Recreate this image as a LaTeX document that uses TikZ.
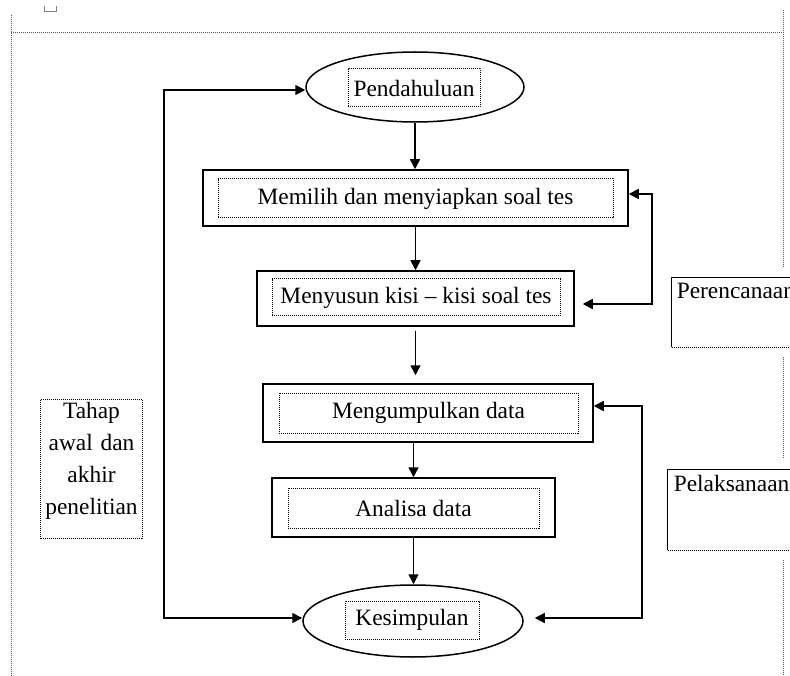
\documentclass[tikz,border=0pt]{standalone}
\usepackage{fontspec}
\setmainfont{Liberation Serif}
\usetikzlibrary{arrows.meta, shapes.geometric}

\begin{document}
\begin{tikzpicture}[
    x=1pt, y=-1pt, line width=1.5pt, >={Triangle[length=10pt, width=10pt]},
    font=\fontsize{23.4}{32}\selectfont,
    procbox/.style={draw, rectangle, inner sep=0pt},
    txtbox/.style={draw, rectangle, dash pattern=on 1.2pt off 0.8pt, line width=1pt, inner sep=0pt},
    oval/.style={draw, ellipse, inner sep=0pt},
    sidebox/.style={draw, dash pattern=on 1.2pt off 0.8pt, line width=1pt, anchor=north west, minimum width=140pt},
    sidetext/.style={anchor=north west, inner sep=5pt},
    pageframe/.style={black!65, dash pattern=on 1.2pt off 0.8pt, line width=1pt},
    arr/.style={->},
    link/.style={<->}
]
    \useasboundingbox (0,0) rectangle (790,676);

    % page frame
    \draw[pageframe] (11,676) -- (11,14);
    \draw[pageframe] (11,33) -- (783,33);
    \draw[pageframe] (783,10) -- (783,267);
    \draw[pageframe] (783,357) -- (783,458);
    \draw[pageframe] (783,560) -- (783,676);
    \draw[gray, line width=0.8pt] (44,6) -- (44,11) -- (56,11) -- (56,6);

    % main flow
    \node[oval, minimum width=218pt, minimum height=70pt] (pend) at (415,87) {};
    \node[txtbox, minimum width=132pt, minimum height=38pt] (pend-t) at (414,88) {Pendahuluan};

    \node[procbox, minimum width=425pt, minimum height=56pt] (memilih) at (415.5,198) {};
    \node[txtbox, minimum width=395pt, minimum height=39pt] (memilih-t) at (415.5,198.5) {Memilih dan menyiapkan soal tes};

    \node[procbox, minimum width=317pt, minimum height=55pt] (susun) at (415.5,298.5) {};
    \node[txtbox, minimum width=288pt, minimum height=37pt] (susun-t) at (416,297.5) {Menyusun kisi – kisi soal tes};

    \node[procbox, minimum width=330pt, minimum height=58pt] (kumpul) at (428,413) {};
    \node[txtbox, minimum width=299pt, minimum height=40pt] (kumpul-t) at (428.5,413) {Mengumpulkan data};

    \node[procbox, minimum width=283pt, minimum height=59pt] (analisa) at (413.5,507.5) {};
    \node[txtbox, minimum width=251pt, minimum height=40pt] (analisa-t) at (413.5,508) {Analisa data};

    \node[oval, minimum width=220pt, minimum height=72pt] (simpul) at (413,621) {};
    \node[txtbox, minimum width=134pt, minimum height=38pt] (simpul-t) at (412,620) {Kesimpulan};

    % side labels
    \node[txtbox, anchor=north west, text width=96pt, align=center, inner sep=3pt, text depth=117pt] (tahap) at (40,399) {Tahap\\awal dan\\akhir\\penelitian};
    \node[sidebox, minimum height=70pt] (rencana) at (671,277) {};
    \node[sidetext] (rencana-t) at (rencana.north west) {Perencanaan};
    \node[sidebox, minimum height=81pt] (laksana) at (667,469) {};
    \node[sidetext, inner sep=6pt] (laksana-t) at (laksana.north west) {Pelaksanaan};

    % arrows
    \draw[arr] (pend.south) -- (pend.south |- memilih.north);
    \draw[arr] (memilih.south) -- (memilih.south |- susun.north);
    \draw[arr, shorten <=4pt, shorten >=8pt] (susun.south) -- (susun.south |- kumpul.north);
    \draw[arr] (analisa.north |- kumpul.south) -- (analisa.north);
    \draw[arr] (analisa.south) -- (analisa.south |- simpul.north);

    \coordinate (kiri) at (164,0);
    \coordinate (kanan1) at (652,0);
    \coordinate (kanan2) at (642,0);
    \draw[link] ([yshift=-3pt]pend.west) -- ([yshift=-3pt]pend.west -| kiri) -- ([yshift=3pt]simpul.west -| kiri) -- ([yshift=3pt]simpul.west);
    \draw[link, shorten >=8pt] ([yshift=4pt]memilih.east) -- ([yshift=4pt]memilih.east -| kanan1) -- ([yshift=-5.5pt]susun.east -| kanan1) -- ([yshift=-5.5pt]susun.east);
    \draw[link, shorten >=11pt] ([yshift=7pt]kumpul.east) -- ([yshift=7pt]kumpul.east -| kanan2) -- ([yshift=3pt]simpul.east -| kanan2) -- ([yshift=3pt]simpul.east);
\end{tikzpicture}
\end{document}
